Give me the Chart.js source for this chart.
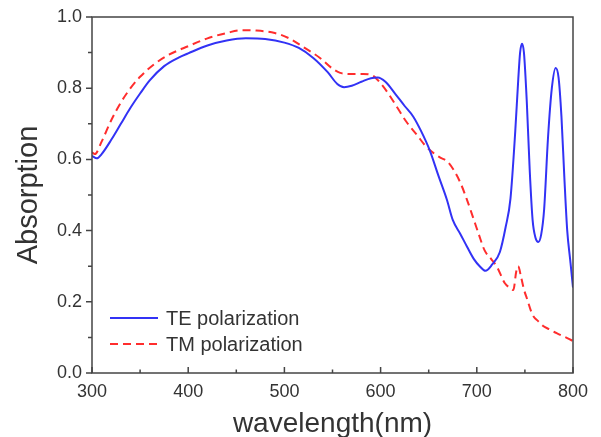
<!DOCTYPE html>
<html lang="en">
<head>
    <meta charset="UTF-8">
    <title>Absorption spectrum</title>
    <script src="https://cdn.jsdelivr.net/npm/chart.js"></script>
    <style>
        html, body { margin: 0; padding: 0; background: #fff; }
        #wrap { width: 601px; height: 437px; }
    </style>
</head>
<body>
<div id="wrap"><canvas id="absChart" width="601" height="437"></canvas></div>
<script>
// wavelength (nm) and absorption
const teWavelength = [300, 305, 310, 320, 330, 340, 350, 360, 375, 390, 400, 420, 440, 460, 480, 500, 515, 530, 545, 555, 562, 570, 580, 590, 597, 605, 615, 625, 634, 642, 651, 660, 669, 675, 683, 690, 697, 703, 709, 716, 724, 730, 735, 740, 743, 745, 747, 749, 752, 755, 758, 761, 764, 767, 770, 774, 778, 782, 785, 788, 791, 794, 797, 800];
const teAbsorption = [0.61, 0.603, 0.615, 0.655, 0.70, 0.745, 0.785, 0.822, 0.862, 0.886, 0.898, 0.92, 0.934, 0.94, 0.938, 0.928, 0.913, 0.885, 0.845, 0.812, 0.803, 0.807, 0.818, 0.828, 0.83, 0.818, 0.785, 0.75, 0.72, 0.68, 0.626, 0.555, 0.486, 0.43, 0.39, 0.354, 0.32, 0.30, 0.287, 0.305, 0.34, 0.41, 0.49, 0.68, 0.82, 0.90, 0.925, 0.90, 0.76, 0.57, 0.43, 0.38, 0.368, 0.39, 0.46, 0.66, 0.80, 0.857, 0.83, 0.72, 0.55, 0.40, 0.32, 0.24];

const tmWavelength = [300, 303, 310, 320, 330, 340, 350, 365, 380, 400, 420, 440, 455, 470, 490, 505, 520, 537, 550, 558, 570, 582, 592, 599, 608, 617, 627, 638, 646, 654, 662, 669, 676, 683, 690, 696, 702, 708, 715, 721, 729, 735, 738, 741, 743, 746, 749, 752, 758, 764, 769, 776, 783, 790, 794, 800];
const tmAbsorption = [0.62, 0.615, 0.65, 0.71, 0.76, 0.80, 0.832, 0.868, 0.894, 0.918, 0.94, 0.955, 0.963, 0.962, 0.955, 0.94, 0.915, 0.885, 0.855, 0.843, 0.84, 0.84, 0.835, 0.817, 0.785, 0.747, 0.705, 0.668, 0.64, 0.62, 0.605, 0.595, 0.57, 0.534, 0.485, 0.438, 0.39, 0.345, 0.32, 0.298, 0.253, 0.238, 0.233, 0.285, 0.30, 0.27, 0.235, 0.21, 0.163, 0.145, 0.132, 0.122, 0.112, 0.103, 0.098, 0.09];

const seriesLabels = ['TE polarization', 'TM polarization'];
const xTicks = [300, 400, 500, 600, 700, 800];
const yTicks = [0.0, 0.2, 0.4, 0.6, 0.8, 1.0];

const toPoints = (xs, ys) => xs.map((x, i) => ({ x: x, y: ys[i] }));

const fontFamily = '"Liberation Sans", Arial, sans-serif';
const textColor = '#333';
const frameColor = '#444';

// box frame, inward x ticks, outward y ticks, and a legend inside the plot
const framePlugin = {
    id: 'frame',
    afterDraw(chart) {
        const ctx = chart.ctx;
        const a = chart.chartArea;
        const xs = chart.scales.x, ys = chart.scales.y;
        ctx.save();
        ctx.strokeStyle = frameColor;
        ctx.lineWidth = 1.5;
        ctx.strokeRect(a.left, a.top, a.right - a.left, a.bottom - a.top);
        ctx.beginPath();
        for (let v = 300; v <= 800; v += 50) {
            const px = xs.getPixelForValue(v);
            const len = v % 100 === 0 ? 6 : 3.5;
            ctx.moveTo(px, a.bottom);
            ctx.lineTo(px, a.bottom - len);
        }
        for (let v = 0; v <= 10; v++) {
            const py = ys.getPixelForValue(v / 10);
            const len = v % 2 === 0 ? 6 : 4;
            ctx.moveTo(a.left, py);
            ctx.lineTo(a.left - len, py);
        }
        ctx.stroke();

        // legend
        ctx.font = '20px ' + fontFamily;
        ctx.textBaseline = 'middle';
        chart.data.datasets.forEach((ds, i) => {
            const y = 318 + i * 26;
            ctx.strokeStyle = ds.borderColor;
            ctx.lineWidth = 2;
            ctx.setLineDash(ds.borderDash || []);
            ctx.beginPath();
            ctx.moveTo(110, y);
            ctx.lineTo(158, y);
            ctx.stroke();
            ctx.setLineDash([]);
            ctx.fillStyle = textColor;
            ctx.fillText(ds.label, 166, y + 1);
        });
        ctx.restore();
    }
};

const ctx = document.getElementById('absChart').getContext('2d');
new Chart(ctx, {
    type: 'line',
    data: {
        datasets: [{
            label: seriesLabels[0],
            data: toPoints(teWavelength, teAbsorption),
            borderColor: 'rgb(50, 50, 245)',
            borderWidth: 2,
            pointRadius: 0,
            cubicInterpolationMode: 'monotone',
            fill: false
        }, {
            label: seriesLabels[1],
            data: toPoints(tmWavelength, tmAbsorption),
            borderColor: 'rgb(255, 45, 45)',
            borderWidth: 2,
            borderDash: [8, 5],
            pointRadius: 0,
            cubicInterpolationMode: 'monotone',
            fill: false
        }]
    },
    options: {
        responsive: false,
        animation: false,
        layout: { padding: { top: 17, right: 28, left: 0, bottom: 0 } },
        plugins: {
            legend: { display: false },
            tooltip: { enabled: false }
        },
        scales: {
            x: {
                type: 'linear',
                min: 300,
                max: 800,
                afterBuildTicks(scale) { scale.ticks = xTicks.map(v => ({ value: v })); },
                afterFit(scale) { scale.height = 64; },
                grid: { display: false },
                border: { display: false },
                ticks: {
                    color: textColor,
                    padding: 0,
                    font: { family: fontFamily, size: 18 }
                },
                title: {
                    display: true,
                    text: 'wavelength(nm)',
                    color: textColor,
                    padding: { top: 0, bottom: 2 },
                    font: { family: fontFamily, size: 28, lineHeight: 0.8 }
                }
            },
            y: {
                type: 'linear',
                min: 0,
                max: 1,
                afterBuildTicks(scale) { scale.ticks = yTicks.map(v => ({ value: v })); },
                afterFit(scale) { scale.width = 92; },
                grid: { display: false },
                border: { display: false },
                ticks: {
                    color: textColor,
                    padding: 2,
                    callback: v => v.toFixed(1),
                    font: { family: fontFamily, size: 18 }
                },
                title: {
                    display: true,
                    text: 'Absorption',
                    color: textColor,
                    padding: { top: 12, bottom: 0 },
                    font: { family: fontFamily, size: 29 }
                }
            }
        }
    },
    plugins: [framePlugin]
});
</script>
</body>
</html>
